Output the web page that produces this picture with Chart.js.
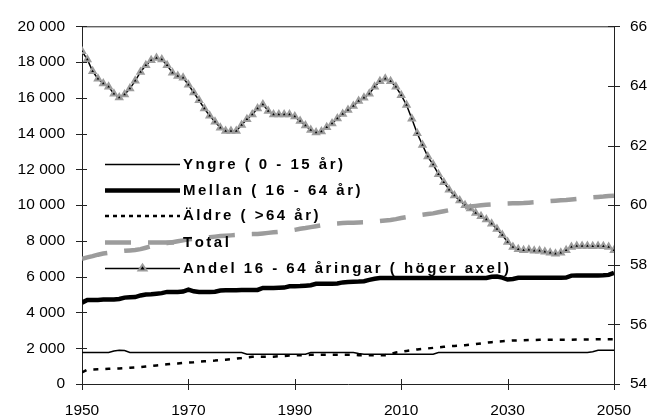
<!DOCTYPE html>
<html>
<head>
<meta charset="utf-8">
<script src="https://cdn.jsdelivr.net/npm/chart.js@4.4.1/dist/chart.umd.min.js"></script>
<style>
    html, body { margin: 0; padding: 0; background: #fff; }
    #wrap { width: 652px; height: 419px; }
</style>
</head>
<body>
<div id="wrap"><canvas id="chart" width="652" height="419"></canvas></div>
<script>
const years = [
    1950, 1951, 1952, 1953, 1954, 1955, 1956, 1957, 1958, 1959,
    1960, 1961, 1962, 1963, 1964, 1965, 1966, 1967, 1968, 1969,
    1970, 1971, 1972, 1973, 1974, 1975, 1976, 1977, 1978, 1979,
    1980, 1981, 1982, 1983, 1984, 1985, 1986, 1987, 1988, 1989,
    1990, 1991, 1992, 1993, 1994, 1995, 1996, 1997, 1998, 1999,
    2000, 2001, 2002, 2003, 2004, 2005, 2006, 2007, 2008, 2009,
    2010, 2011, 2012, 2013, 2014, 2015, 2016, 2017, 2018, 2019,
    2020, 2021, 2022, 2023, 2024, 2025, 2026, 2027, 2028, 2029,
    2030, 2031, 2032, 2033, 2034, 2035, 2036, 2037, 2038, 2039,
    2040, 2041, 2042, 2043, 2044, 2045, 2046, 2047, 2048, 2049,
    2050
];

const yngre = [
    1760, 1760, 1760, 1760, 1760, 1760, 1850, 1880, 1870, 1760,
    1760, 1760, 1760, 1760, 1760, 1760, 1760, 1760, 1760, 1760,
    1760, 1760, 1760, 1760, 1760, 1760, 1760, 1760, 1760, 1760,
    1760, 1670, 1670, 1670, 1670, 1670, 1670, 1670, 1670, 1670,
    1670, 1670, 1670, 1760, 1760, 1760, 1760, 1760, 1760, 1760,
    1760, 1760, 1700, 1670, 1670, 1670, 1670, 1670, 1670, 1670,
    1670, 1670, 1670, 1670, 1670, 1670, 1670, 1760, 1760, 1760,
    1760, 1760, 1760, 1760, 1760, 1760, 1760, 1760, 1760, 1760,
    1760, 1760, 1760, 1760, 1760, 1760, 1760, 1760, 1760, 1760,
    1760, 1760, 1760, 1760, 1760, 1760, 1800, 1890, 1890, 1890,
    1890
];

const mellan = [
    4550, 4700, 4700, 4700, 4720, 4720, 4720, 4750, 4830, 4850,
    4860, 4950, 5000, 5020, 5050, 5080, 5150, 5150, 5150, 5170,
    5280, 5180, 5150, 5150, 5150, 5160, 5230, 5240, 5240, 5240,
    5250, 5250, 5250, 5260, 5370, 5370, 5370, 5380, 5390, 5460,
    5470, 5480, 5500, 5520, 5600, 5610, 5610, 5610, 5620, 5680,
    5700, 5720, 5730, 5750, 5820, 5880, 5920, 5920, 5920, 5920,
    5920, 5920, 5920, 5920, 5920, 5920, 5920, 5920, 5920, 5920,
    5920, 5920, 5920, 5920, 5920, 5920, 5930, 6000, 6010, 5950,
    5840, 5870, 5940, 5940, 5940, 5940, 5940, 5940, 5940, 5940,
    5940, 5950, 6060, 6070, 6070, 6070, 6070, 6070, 6080, 6100,
    6220
];

const aldre = [
    650, 800, 810, 820, 830, 850, 860, 870, 890, 910,
    930, 950, 980, 1010, 1040, 1070, 1100, 1130, 1150, 1180,
    1200, 1220, 1250, 1270, 1290, 1310, 1340, 1360, 1390, 1420,
    1450, 1490, 1520, 1520, 1520, 1520, 1530, 1550, 1570, 1590,
    1600, 1610, 1620, 1630, 1630, 1630, 1630, 1630, 1630, 1630,
    1630, 1630, 1610, 1610, 1610, 1610, 1610, 1610, 1680, 1760,
    1800, 1850, 1890, 1930, 1960, 1990, 2020, 2050, 2080, 2110,
    2130, 2150, 2170, 2200, 2230, 2270, 2310, 2340, 2370, 2390,
    2410, 2430, 2440, 2450, 2460, 2460, 2470, 2470, 2470, 2480,
    2480, 2480, 2480, 2490, 2490, 2490, 2490, 2500, 2500, 2500,
    2500
];

const total = [
    7000, 7080, 7150, 7230, 7300, 7340, 7380, 7420, 7450, 7470,
    7490, 7540, 7620, 7700, 7770, 7830, 7880, 7930, 7980, 8030,
    8090, 8120, 8150, 8180, 8210, 8240, 8270, 8290, 8310, 8330,
    8350, 8370, 8380, 8390, 8420, 8450, 8480, 8510, 8540, 8570,
    8620, 8680, 8720, 8770, 8820, 8870, 8920, 8960, 8980, 9000,
    9010, 9020, 9030, 9040, 9050, 9080, 9110, 9140, 9170, 9220,
    9280, 9330, 9380, 9420, 9460, 9500, 9540, 9600, 9660, 9720,
    9780, 9840, 9880, 9920, 9960, 9990, 10020, 10040, 10060, 10080,
    10090, 10100, 10110, 10120, 10140, 10160, 10180, 10200, 10230, 10250,
    10270, 10290, 10320, 10350, 10380, 10410, 10440, 10460, 10480, 10510,
    10530
];

// andel 16-64 år i procent (höger axel)
const andel = [
    65.16, 64.89, 64.49, 64.24, 64.08, 63.97, 63.74, 63.61, 63.71, 63.91,
    64.17, 64.47, 64.69, 64.86, 64.94, 64.89, 64.69, 64.44, 64.33, 64.27,
    64.04, 63.78, 63.52, 63.24, 63.00, 62.80, 62.60, 62.49, 62.49, 62.49,
    62.69, 62.88, 63.04, 63.24, 63.38, 63.16, 63.04, 63.04, 63.04, 63.04,
    62.97, 62.82, 62.67, 62.52, 62.44, 62.47, 62.61, 62.74, 62.91, 63.06,
    63.19, 63.33, 63.49, 63.60, 63.74, 63.97, 64.16, 64.24, 64.16, 63.97,
    63.69, 63.36, 62.90, 62.41, 62.02, 61.63, 61.36, 61.04, 60.77, 60.52,
    60.32, 60.16, 60.00, 59.89, 59.74, 59.63, 59.52, 59.38, 59.20, 59.00,
    58.76, 58.60, 58.52, 58.49, 58.50, 58.47, 58.47, 58.44, 58.40, 58.37,
    58.40, 58.49, 58.60, 58.63, 58.63, 58.63, 58.62, 58.63, 58.62, 58.60,
    58.49
];

const seriesLabels = [
    'Yngre ( 0 - 15 år)',
    'Mellan ( 16 - 64 år)',
    'Äldre ( >64 år)',
    'Total',
    'Andel 16 - 64 åringar ( höger axel)'
];

const FONT = '"Liberation Sans", Arial, sans-serif';
const GRAY = '#9c9c9c';

function toPoints(values) {
    return values.map((v, i) => ({ x: years[i], y: v }));
}

function spaceThousands(v) {
    return String(v).replace(/\B(?=(\d{3})+(?!\d))/g, ' ');
}

// draw text with extra letter spacing, char by char
function spacedText(ctx, str, x, y, spacing) {
    for (const ch of str) {
        ctx.fillText(ch, x, y);
        x += ctx.measureText(ch).width + spacing;
    }
}

function drawTriangle(ctx, x, y, r, fill, stroke, lw) {
    const h = r * 1.5;
    const w = r * 1.732;
    ctx.beginPath();
    ctx.moveTo(x, y - r);
    ctx.lineTo(x + w / 2 + 0.5, y - r + h);
    ctx.lineTo(x - w / 2 - 0.5, y - r + h);
    ctx.closePath();
    ctx.fillStyle = fill;
    ctx.fill();
    ctx.lineWidth = lw;
    ctx.strokeStyle = stroke;
    ctx.stroke();
}

// frame: top line and tick marks crossing the axes
const framePlugin = {
    id: 'frame',
    afterDraw(chart) {
        const { ctx, chartArea: a, scales } = chart;
        ctx.save();
        ctx.strokeStyle = '#222';
        ctx.lineWidth = 1;
        ctx.beginPath();
        ctx.moveTo(a.left, a.top + 0.5);
        ctx.lineTo(a.right, a.top + 0.5);
        scales.y.ticks.forEach(t => {
            const y = Math.round(scales.y.getPixelForValue(t.value)) + 0.5;
            ctx.moveTo(a.left - 6, y);
            ctx.lineTo(a.left + 5, y);
        });
        scales.y2.ticks.forEach(t => {
            const y = Math.round(scales.y2.getPixelForValue(t.value)) + 0.5;
            ctx.moveTo(a.right - 6, y);
            ctx.lineTo(a.right + 6, y);
        });
        scales.x.ticks.forEach(t => {
            const x = Math.round(scales.x.getPixelForValue(t.value)) + 0.5;
            ctx.moveTo(x, a.bottom - 5);
            ctx.lineTo(x, a.bottom + 6);
        });
        ctx.stroke();
        ctx.restore();
    }
};

// legend drawn inside the plot, like the original
const legendPlugin = {
    id: 'innerLegend',
    afterDatasetsDraw(chart) {
        const { ctx } = chart;
        const x0 = 105, x1 = 180, textX = 183;
        const rowY = [164.5, 190.5, 216, 242.5, 268.5];
        ctx.save();
        chart.data.datasets.forEach((ds, i) => {
            const y = rowY[i];
            ctx.beginPath();
            ctx.setLineDash(ds.legendDash || ds.borderDash || []);
            ctx.lineWidth = ds.borderWidth;
            ctx.strokeStyle = ds.borderColor;
            ctx.moveTo(x0, y);
            ctx.lineTo(x1, y);
            ctx.stroke();
            ctx.setLineDash([]);
            if (ds.pointStyle === 'triangle') {
                drawTriangle(ctx, (x0 + x1) / 2, y, 4, ds.pointBackgroundColor, ds.pointBorderColor, 2);
            }
            ctx.fillStyle = '#000';
            ctx.font = 'bold 15px ' + FONT;
            ctx.textBaseline = 'middle';
            spacedText(ctx, seriesLabels[i], textX, y, 2.5);
        });
        ctx.restore();
    }
};

new Chart(document.getElementById('chart'), {
    type: 'line',
    data: {
        datasets: [
            {
                label: seriesLabels[0],
                data: toPoints(yngre),
                borderColor: '#000',
                borderWidth: 1.5,
                pointRadius: 0,
                yAxisID: 'y'
            },
            {
                label: seriesLabels[1],
                data: toPoints(mellan),
                borderColor: '#000',
                borderWidth: 4.5,
                pointRadius: 0,
                yAxisID: 'y'
            },
            {
                label: seriesLabels[2],
                data: toPoints(aldre),
                borderColor: '#000',
                borderWidth: 2.5,
                borderDash: [5, 7],
                legendDash: [4, 4],
                pointRadius: 0,
                yAxisID: 'y'
            },
            {
                label: seriesLabels[3],
                data: toPoints(total),
                borderColor: GRAY,
                borderWidth: 4.5,
                borderDash: [26, 17],
                pointRadius: 0,
                yAxisID: 'y'
            },
            {
                label: seriesLabels[4],
                data: toPoints(andel),
                borderColor: '#000',
                borderWidth: 1.5,
                pointStyle: 'triangle',
                pointRadius: 3.5,
                pointBorderWidth: 2,
                pointBorderColor: GRAY,
                pointBackgroundColor: '#000',
                yAxisID: 'y2'
            }
        ]
    },
    options: {
        responsive: false,
        animation: false,
        events: [],
        layout: { padding: { top: 24, left: 0, right: 0, bottom: 0 } },
        plugins: {
            legend: { display: false },
            tooltip: { enabled: false }
        },
        scales: {
            x: {
                type: 'linear',
                min: 1950,
                max: 2050,
                grid: { display: false, drawTicks: false },
                border: { display: true, color: '#222', width: 1 },
                ticks: {
                    stepSize: 20,
                    padding: 17,
                    color: '#000',
                    font: { family: FONT, size: 15.5 },
                    maxRotation: 0,
                    callback: v => String(v)
                },
                afterFit: scale => { scale.height = 35; }
            },
            y: {
                position: 'left',
                min: 0,
                max: 20000,
                grid: { display: false, drawTicks: false },
                border: { display: true, color: '#222', width: 1 },
                ticks: {
                    stepSize: 2000,
                    padding: 17,
                    color: '#000',
                    font: { family: FONT, size: 15.5 },
                    callback: v => spaceThousands(v)
                },
                afterFit: scale => { scale.width = 82; }
            },
            y2: {
                position: 'right',
                min: 54,
                max: 66,
                grid: { display: false, drawTicks: false },
                border: { display: true, color: '#222', width: 1 },
                ticks: {
                    stepSize: 2,
                    padding: 16,
                    color: '#000',
                    font: { family: FONT, size: 15.5 },
                    callback: v => String(v)
                },
                afterFit: scale => { scale.width = 38; }
            }
        }
    },
    plugins: [framePlugin, legendPlugin]
});
</script>
</body>
</html>
